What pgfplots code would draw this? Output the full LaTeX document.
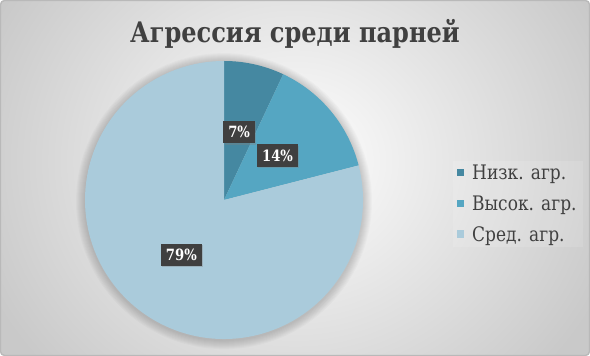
\documentclass[border=0pt]{standalone}
\usepackage{pgfplots}
\pgfplotsset{compat=1.18}
\usepackage{pgfplotstable}
\usetikzlibrary{shadows}
\usepackage{fontspec}
\setmainfont{DejaVu Serif}[FakeStretch=0.85]
\definecolor{sliceA}{HTML}{4588A1}
\definecolor{sliceB}{HTML}{55A6C2}
\definecolor{sliceC}{HTML}{AACBDB}
\definecolor{txtgray}{HTML}{404040}
\definecolor{boxgray}{HTML}{3F3F3F}
\pgfplotstableread{
name value color
low 7 sliceA
high 14 sliceB
mid 79 sliceC
}\piedata
\begin{document}
\begin{tikzpicture}[x=1pt,y=1pt]
\def\R{139pt}
\path[use as bounding box] (0,0) rectangle (590,356);
% background
\begin{scope}
\clip[rounded corners=4pt] (0,0) rectangle (590,356);
\shade[inner color=white, outer color=gray!42]
  (-40,-110) rectangle (630,500);
\end{scope}
\draw[gray!55, line width=1.2pt, rounded corners=4pt] (0.6,0.6) rectangle (589.4,355.4);
% title
\node[anchor=base, text=txtgray, font=\bfseries\fontsize{28.3}{34}\selectfont] at (295,313) {Агрессия среди парней};
\begin{axis}[
  at={(224pt,156pt)}, anchor=center,
  width=278pt, height=278pt, scale only axis,
  xmin=-1, xmax=1, ymin=-1, ymax=1,
  hide axis, clip=false,
  legend style={at={(1.322,0.485)}, anchor=west, draw=none,
    fill=white, fill opacity=0.12, text opacity=1,
    font=\fontsize{20}{24}\selectfont, text=txtgray,
    row sep=10.5pt, cells={anchor=west}, inner xsep=4pt,
    /tikz/every odd column/.append style={column sep=6pt}},
  legend image code/.code={\fill[#1, fill opacity=1, draw=none] (0pt,-3pt) rectangle (7.5pt,4.5pt);},
]
\pgfplotsextra{
  % shadow
  \foreach \k in {1,...,9}{
    \fill[black, opacity=0.018] (axis cs:0,-0.008) circle[radius=\R+\k*1pt];
  }
  \xdef\startang{90}
  \foreach \i in {0,1,2}{
    \pgfplotstablegetelem{\i}{value}\of\piedata
    \let\val\pgfplotsretval
    \pgfplotstablegetelem{\i}{color}\of\piedata
    \let\col\pgfplotsretval
    \pgfmathsetmacro\endang{\startang-\val*3.6}
    \fill[\col] (axis cs:0,0) -- ++(\startang:\R) arc[start angle=\startang, end angle=\endang, radius=\R] -- cycle;
    \xdef\startang{\endang}
  }
  \xdef\startang{90}
  \foreach \i in {0,1,2}{
    \pgfplotstablegetelem{\i}{value}\of\piedata
    \let\val\pgfplotsretval
    \pgfmathsetmacro\endang{\startang-\val*3.6}
    \pgfmathsetmacro\midang{(\startang+\endang)/2}
    \path (axis cs:0,0) ++(\midang:{0.5*\R}) node[fill=boxgray, text=white,
      font=\bfseries\fontsize{15.5}{16}\selectfont, inner xsep=5pt,
      minimum height=22.5pt,
      drop shadow={opacity=0.35, shadow xshift=1.2pt, shadow yshift=-1.2pt}] {\val\%};
    \xdef\startang{\endang}
  }
}
\addlegendimage{sliceA}\addlegendentry{Низк. агр.}
\addlegendimage{sliceB}\addlegendentry{Высок. агр.}
\addlegendimage{sliceC}\addlegendentry{Сред. агр.}
\end{axis}
\end{tikzpicture}
\end{document}
